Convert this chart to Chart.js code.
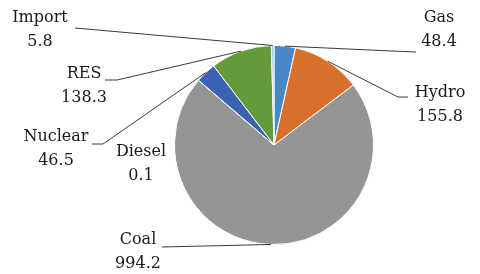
<!DOCTYPE html>
<html><head><meta charset="utf-8">
<script src="https://cdn.jsdelivr.net/npm/chart.js@4"></script>
<style>html,body{margin:0;padding:0;background:#fff}#wrap{width:480px;height:274px}</style>
</head><body><div id="wrap"><canvas id="c" width="480" height="274"></canvas></div>
<script>
const categories = ["Gas", "Hydro", "Coal", "Diesel", "Nuclear", "RES", "Import"];
const values = [48.4, 155.8, 994.2, 0.1, 46.5, 138.3, 5.8];
const valueLabels = ["48.4", "155.8", "994.2", "0.1", "46.5", "138.3", "5.8"];
const colors = ["#4a87c7", "#d8702b", "#959595", "#ffc000", "#3b63b1", "#64993c", "#a2c5e9"];

// label layout (text centre of first line) and leader-line points (from label towards slice)
const labelLayout = {
  Gas:     {x: 439, y: 18, line: [[416, 52], [392, 51]]},
  Hydro:   {x: 440, y: 93, line: [[408, 97], [398, 97]]},
  Coal:    {x: 138, y: 240, line: [[162, 247]]},
  Diesel:  {x: 141, y: 152, line: null},
  Nuclear: {x: 56,  y: 137, line: [[92, 144], [103, 144]]},
  RES:     {x: 84,  y: 74,  line: [[105, 80], [117, 80]]},
  Import:  {x: 40,  y: 18,  line: [[75, 28]]}
};

const labelPlugin = {
  id: 'pieLabels',
  afterDatasetsDraw(chart) {
    const ctx = chart.ctx;
    const meta = chart.getDatasetMeta(0);
    ctx.save();
    meta.data.forEach((arc, i) => {
      const name = categories[i];
      const L = labelLayout[name];
      const p = arc.getProps(['x', 'y', 'startAngle', 'endAngle', 'outerRadius'], true);
      const mid = (p.startAngle + p.endAngle) / 2;
      const ax = p.x + Math.cos(mid) * p.outerRadius;
      const ay = p.y + Math.sin(mid) * p.outerRadius;
      if (L.line) {
        ctx.beginPath();
        ctx.strokeStyle = '#3a3a3a';
        ctx.lineWidth = 1;
        ctx.moveTo(L.line[0][0], L.line[0][1]);
        for (let k = 1; k < L.line.length; k++) ctx.lineTo(L.line[k][0], L.line[k][1]);
        ctx.lineTo(ax, ay);
        ctx.stroke();
      }
      ctx.fillStyle = '#1a1a1a';
      ctx.font = '16px "DejaVu Serif"';
      ctx.textAlign = 'center';
      ctx.textBaseline = 'middle';
      ctx.fillText(name, L.x, L.y);
      ctx.fillText(valueLabels[i], L.x, L.y + 24);
    });
    ctx.restore();
  }
};

new Chart(document.getElementById('c'), {
  type: 'pie',
  data: {
    labels: categories,
    datasets: [{
      data: values,
      backgroundColor: colors,
      borderColor: '#ffffff',
      borderWidth: 1
    }]
  },
  options: {
    responsive: false,
    animation: false,
    layout: {padding: {left: 174, right: 106, top: 45, bottom: 29}},
    plugins: {legend: {display: false}, tooltip: {enabled: false}}
  },
  plugins: [labelPlugin]
});
</script>
</body></html>
